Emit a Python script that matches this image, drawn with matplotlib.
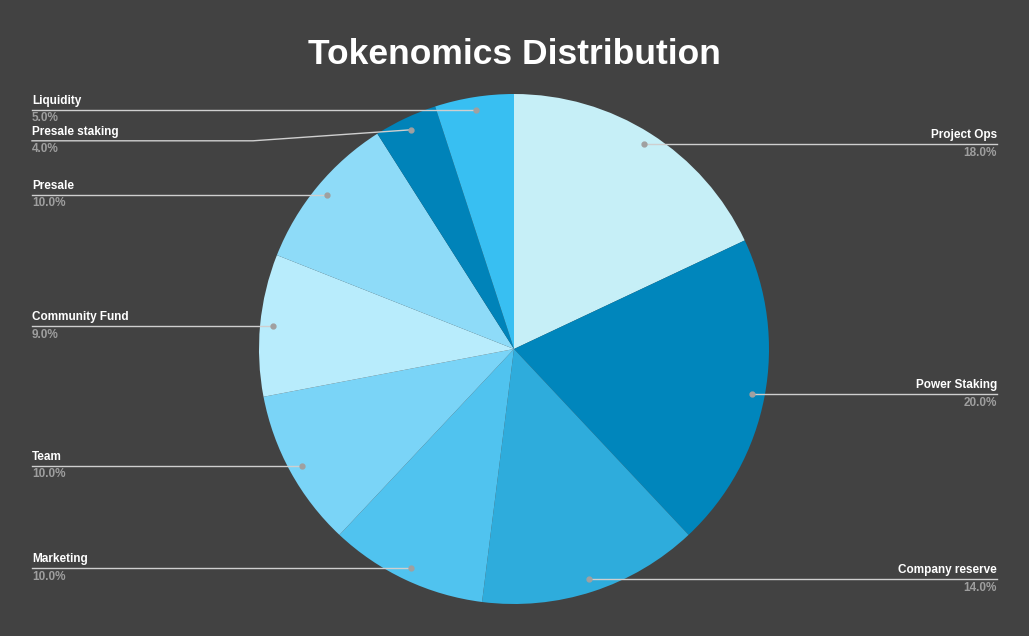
import numpy as np
import matplotlib
matplotlib.use('Agg')
import matplotlib.pyplot as plt

labels = ['Project Ops', 'Power Staking', 'Company reserve', 'Marketing', 'Team',
          'Community Fund', 'Presale', 'Presale staking', 'Liquidity']
values = [18, 20, 14, 10, 10, 9, 10, 4, 5]
colors = ['#c6eff7', '#0086bc', '#2eacdc', '#50c3ef', '#7ad4f7',
          '#b8ecfc', '#8edbf8', '#0083b9', '#38bff2']

plt.rcParams['font.family'] = ['Liberation Sans', 'DejaVu Sans']
bg = '#424242'

W, H = 1029, 636
fig = plt.figure(figsize=(W / 100, H / 100), dpi=100, facecolor=bg)
ax = fig.add_axes([0, 0, 1, 1])
ax.set_facecolor(bg)

cx, cy, R = 514, H - 349, 255
wedges, _ = ax.pie(values, colors=colors, startangle=90, counterclock=False,
                   center=(cx, cy), radius=R, frame=True,
                   wedgeprops=dict(linewidth=0))
ax.set_xlim(0, W)
ax.set_ylim(0, H)
ax.set_aspect('equal')
ax.axis('off')

ax.text(cx, H - 54, 'Tokenomics Distribution', ha='center', va='center',
        color='white', fontsize=25.5, fontweight='bold')

# label anchors: dot at 0.95R on each slice's mid angle
shift = {'Presale staking': 11}   # pushed down to avoid Liquidity label
total = sum(values)
cum = 0
for lab, v in zip(labels, values):
    mid = 90 - 360 * (cum + v / 2) / total
    cum += v
    a = np.deg2rad(mid)
    dx = cx + 0.95 * R * np.cos(a)
    dy = cy + 0.95 * R * np.sin(a)
    ly = dy - shift.get(lab, 0)
    if np.cos(a) > 0:
        tx, ha = 997, 'right'
        ax.plot([dx, 997], [ly, ly], color='#cfcfcf', lw=1, zorder=3)
    else:
        tx, ha = 32, 'left'
        if lab in shift:
            ax.plot([32, 253, dx], [ly, ly, dy], color='#cfcfcf', lw=1, zorder=3)
        else:
            ax.plot([32, dx], [ly, ly], color='#cfcfcf', lw=1, zorder=3)
    ax.plot(dx, dy, 'o', color='#a0a0a0', ms=3.5, zorder=4)
    ax.text(tx, ly + 3, lab, ha=ha, va='bottom', color='white',
            fontsize=8.5, fontweight='bold')
    ax.text(tx, ly - 2.5, f'{v:.1f}%', ha=ha, va='top', color='#9e9e9e',
            fontsize=8.5, fontweight='bold')

fig.savefig('out.png', dpi=100, facecolor=bg)
